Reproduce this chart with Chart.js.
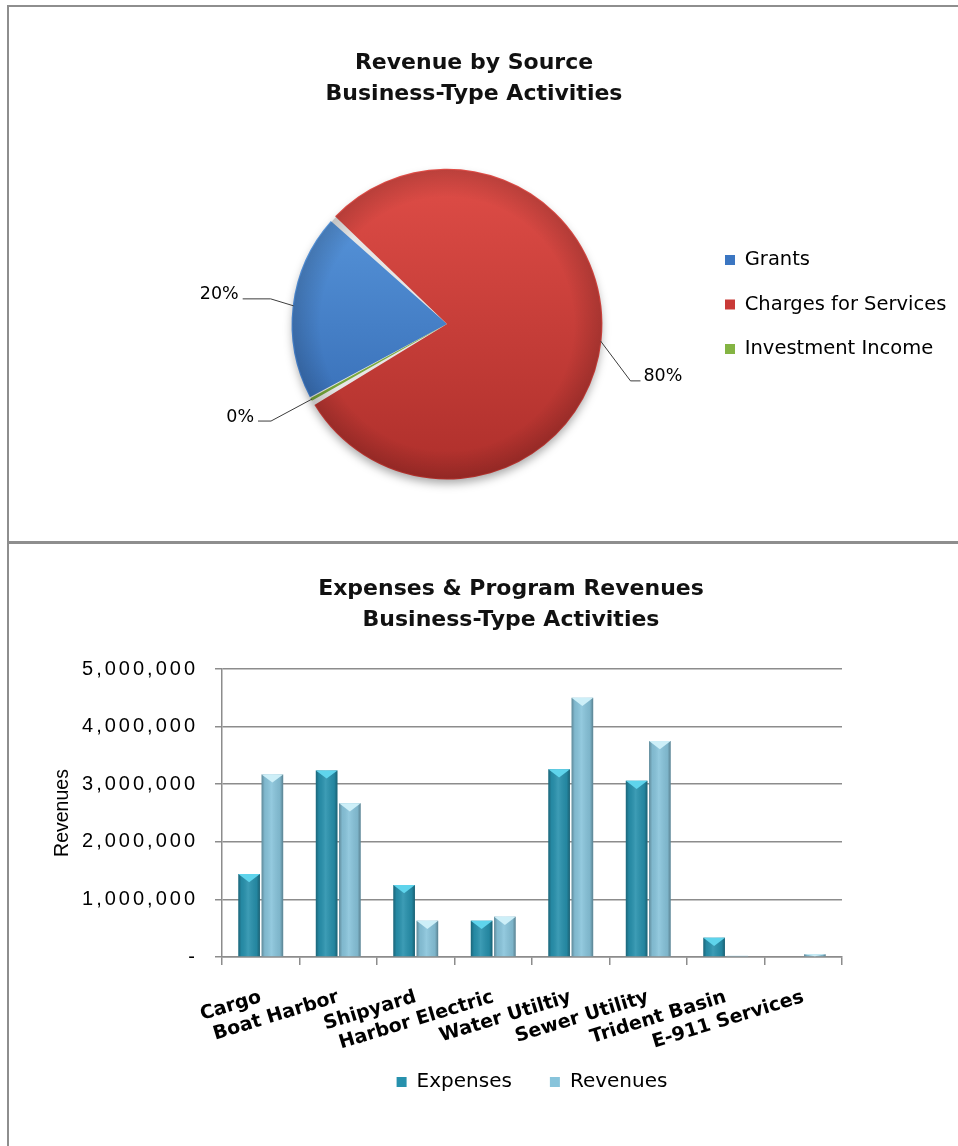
<!DOCTYPE html>
<html>
<head>
<meta charset="utf-8">
<title>Business-Type Activities</title>
<script src="https://cdn.jsdelivr.net/npm/chart.js@4.4.1/dist/chart.umd.min.js"></script>
<style>
  html, body { margin: 0; padding: 0; background: #fff; overflow: hidden; }
  body { width: 958px; height: 1146px; position: relative; }
  .frame { position: absolute; border: 0 solid #8e8e8e; }
  #frameTop { left: 7px; top: 5px; width: 1000px; height: 534px; border-width: 2px 0 3px 2px; }
  #frameBottom { left: 7px; top: 544px; width: 1000px; height: 700px; border-left-width: 2px; }
  canvas { position: absolute; }
  #pieChart { left: 0; top: 7px; }
  #barChart { left: 9px; top: 545px; }
</style>
</head>
<body>
<div class="frame" id="frameTop"></div>
<div class="frame" id="frameBottom"></div>
<canvas id="pieChart" width="958" height="534"></canvas>
<canvas id="barChart" width="1004" height="601"></canvas>
<script>
// revenue by source, percent of total
const sourceLabels = ['Grants', 'Charges for Services', 'Investment Income'];
const sourceShares = [19.6, 80.1, 0.3];

// expenses and program revenues per activity
const activities = ['Cargo', 'Boat Harbor', 'Shipyard', 'Harbor Electric', 'Water Utiltiy', 'Sewer Utility', 'Trident Basin', 'E-911 Services'];
const expenses = [1440000, 3240000, 1250000, 630000, 3260000, 3060000, 335000, 0];
const revenues = [3170000, 2670000, 630000, 700000, 4500000, 3750000, 20000, 47000];
const yTicks = [0, 1000000, 2000000, 3000000, 4000000, 5000000];

const sliceTop = ['#5c9be0', '#df4d47', '#93c552'];
const sliceBottom = ['#2f64ad', '#ae2f2b', '#6a982f'];
const sliceSolid = ['#3b76c2', '#c93a37', '#84b443'];

// elbow of each leader line, relative to the slice edge, and the flat run
const leaderBends = [
    { dx: -23, dy: -7, run: -28 },
    { dx: 30, dy: 40, run: 10 },
    { dx: -41, dy: 22, run: -13 }
];

const axisGray = '#8c8c8c';
const barColors = ['#2791ad', '#88c4db'];
const capColors = ['#5fd4ec', '#cdeff8'];

const pieLook = {
    id: 'pieLook',
    beforeDraw(chart) {
        // legend text runs past the narrow legend box, so draw it unclipped
        const legend = chart.legend;
        if (legend && !legend._unclipped) {
            legend.draw = function () {
                if (this.options.display) this._draw();
            };
            legend._unclipped = true;
        }
    },
    beforeDatasetsDraw(chart) {
        const arc = chart.getDatasetMeta(0).data[0];
        if (!arc) return;
        const p = arc.getProps(['x', 'y', 'outerRadius'], true);
        const ctx = chart.ctx;
        ctx.save();
        ctx.shadowColor = 'rgba(0,0,0,0.35)';
        ctx.shadowBlur = 10;
        ctx.shadowOffsetY = 5;
        ctx.beginPath();
        ctx.arc(p.x, p.y, p.outerRadius, 0, Math.PI * 2);
        ctx.fillStyle = '#e6e6e6';
        ctx.fill();
        ctx.restore();
    },
    afterDatasetsDraw(chart) {
        const ctx = chart.ctx;
        const meta = chart.getDatasetMeta(0);
        const total = sourceShares.reduce((a, b) => a + b, 0);

        // darker rim
        const c = meta.data[0].getProps(['x', 'y', 'outerRadius'], true);
        const rim = ctx.createRadialGradient(c.x, c.y, c.outerRadius * 0.82, c.x, c.y, c.outerRadius);
        rim.addColorStop(0, 'rgba(0,0,0,0)');
        rim.addColorStop(1, 'rgba(0,0,0,0.16)');
        ctx.save();
        ctx.beginPath();
        ctx.arc(c.x, c.y, c.outerRadius, 0, Math.PI * 2);
        ctx.fillStyle = rim;
        ctx.fill();
        ctx.restore();

        meta.data.forEach((arc, i) => {
            const p = arc.getProps(['x', 'y', 'startAngle', 'endAngle', 'outerRadius'], true);
            const mid = (p.startAngle + p.endAngle) / 2;
            const ex = p.x + Math.cos(mid) * p.outerRadius;
            const ey = p.y + Math.sin(mid) * p.outerRadius;
            const bend = leaderBends[i];
            const bx = ex + bend.dx;
            const by = ey + bend.dy;
            const tx = bx + bend.run;
            ctx.save();
            ctx.strokeStyle = '#3c3c3c';
            ctx.lineWidth = 1;
            ctx.beginPath();
            ctx.moveTo(ex, ey);
            ctx.lineTo(bx, by);
            ctx.lineTo(tx, by);
            ctx.stroke();
            ctx.fillStyle = '#000';
            ctx.font = '17.5px "DejaVu Sans"';
            ctx.textBaseline = 'middle';
            ctx.textAlign = bend.run < 0 ? 'right' : 'left';
            const pct = Math.round(sourceShares[i] / total * 100) + '%';
            ctx.fillText(pct, tx + (bend.run < 0 ? -4 : 3), by - 4);
            ctx.restore();
        });
    }
};

const pieChart = new Chart(document.getElementById('pieChart'), {
    type: 'pie',
    data: {
        labels: sourceLabels,
        datasets: [{
            data: sourceShares,
            backgroundColor: (c) => {
                const area = c.chart.chartArea;
                if (!area) return sliceSolid[c.dataIndex];
                const g = c.chart.ctx.createLinearGradient(0, area.top, 0, area.bottom);
                g.addColorStop(0, sliceTop[c.dataIndex]);
                g.addColorStop(1, sliceBottom[c.dataIndex]);
                return g;
            },
            borderWidth: 0,
            spacing: 2
        }]
    },
    options: {
        responsive: false,
        animation: false,
        rotation: 241.5,
        layout: { padding: { left: 194, right: 204, top: 0, bottom: 61.5 } },
        plugins: {
            tooltip: { enabled: false },
            title: {
                display: true,
                text: ['Revenue by Source', 'Business-Type Activities'],
                color: '#111',
                font: { family: 'DejaVu Sans', size: 22, weight: 'bold', lineHeight: 1.4 },
                padding: { top: 40.6, bottom: 59.5 }
            },
            legend: {
                position: 'right',
                maxWidth: 54,
                title: { display: true, text: ' ', font: { size: 10 }, padding: { top: 0, bottom: 110.5 } },
                labels: {
                    boxWidth: 10,
                    boxHeight: 10,
                    padding: 25,
                    color: '#000',
                    font: { family: 'DejaVu Sans', size: 19.5 },
                    generateLabels(chart) {
                        const items = Chart.overrides.doughnut.plugins.legend.labels.generateLabels(chart);
                        items.forEach((it, i) => {
                            it.fillStyle = sliceSolid[i];
                            it.strokeStyle = sliceSolid[i];
                            it.lineWidth = 0;
                        });
                        return items;
                    }
                }
            }
        }
    },
    plugins: [pieLook]
});

// y tick labels get wide letter spacing; x labels may hang below their box
const tickTweaks = {
    id: 'tickTweaks',
    beforeDraw(chart) {
        const y = chart.scales.y;
        if (y && !y._spaced) {
            const draw = y.drawLabels;
            y.drawLabels = function (area) {
                this.ctx.save();
                this.ctx.letterSpacing = '3px';
                draw.call(this, area);
                this.ctx.restore();
            };
            y._spaced = true;
        }
        const x = chart.scales.x;
        if (x) x._computeLabelArea = () => undefined;
    }
};

// bevelled columns with a pointed cap
const columnLook = {
    id: 'columnLook',
    afterDatasetsDraw(chart) {
        const ctx = chart.ctx;
        chart.data.datasets.forEach((ds, di) => {
            chart.getDatasetMeta(di).data.forEach((bar) => {
                const b = bar.getProps(['x', 'y', 'base', 'width'], true);
                const h = b.base - b.y;
                if (h < 0.5) return;
                const x0 = b.x - b.width / 2;
                const x1 = b.x + b.width / 2;
                const g = ctx.createLinearGradient(x0, 0, x1, 0);
                g.addColorStop(0, 'rgba(0,0,0,0.30)');
                g.addColorStop(0.15, 'rgba(0,0,0,0.06)');
                g.addColorStop(0.45, 'rgba(255,255,255,0.10)');
                g.addColorStop(0.85, 'rgba(0,0,0,0.08)');
                g.addColorStop(1, 'rgba(0,0,0,0.34)');
                ctx.save();
                ctx.fillStyle = g;
                ctx.fillRect(x0, b.y, b.width, h);
                const d = Math.min(b.width * 0.38, h);
                ctx.beginPath();
                ctx.moveTo(x0, b.y);
                ctx.lineTo(x1, b.y);
                ctx.lineTo(b.x, b.y + d);
                ctx.closePath();
                ctx.fillStyle = capColors[di];
                ctx.fill();
                ctx.restore();
            });
        });
    }
};

const barChart = new Chart(document.getElementById('barChart'), {
    type: 'bar',
    data: {
        labels: activities,
        datasets: [
            { label: 'Expenses', data: expenses, backgroundColor: barColors[0], borderWidth: 0,
              categoryPercentage: 0.6, barPercentage: 0.93 },
            { label: 'Revenues', data: revenues, backgroundColor: barColors[1], borderWidth: 0,
              categoryPercentage: 0.6, barPercentage: 0.93 }
        ]
    },
    options: {
        responsive: false,
        animation: false,
        layout: { padding: { left: 0, right: 0, top: 0, bottom: 44 } },
        scales: {
            x: {
                grid: { display: true, drawOnChartArea: false, drawTicks: true, tickLength: 8, color: axisGray, lineWidth: 1.5 },
                border: { display: true, color: axisGray, width: 1.5 },
                ticks: {
                    autoSkip: false,
                    minRotation: 17,
                    maxRotation: 17,
                    padding: 21,
                    color: '#000',
                    font: { family: 'DejaVu Sans', size: 19, weight: 'bold' }
                },
                afterFit(s) { s.height = 77; }
            },
            y: {
                min: yTicks[0],
                max: yTicks[yTicks.length - 1],
                afterBuildTicks(s) { s.ticks = yTicks.map(v => ({ value: v })); },
                ticks: {
                    padding: 17,
                    color: '#000',
                    font: { family: 'Liberation Sans', size: 20 },
                    callback: (v) => v === 0 ? '-' : v.toLocaleString('en-US')
                },
                grid: { color: axisGray, lineWidth: 1.5, tickLength: 7 },
                border: { color: axisGray, width: 1.5 },
                title: {
                    display: true,
                    text: 'Revenues',
                    color: '#000',
                    font: { family: 'Liberation Sans', size: 19.5 },
                    padding: { top: 42, bottom: 0 }
                },
                afterFit(s) { s.width = 213; }
            },
            y2: {
                position: 'right',
                grid: { display: false },
                border: { display: false },
                ticks: { display: false },
                afterFit(s) { s.width = 171; }
            }
        },
        plugins: {
            tooltip: { enabled: false },
            title: {
                display: true,
                text: ['Expenses & Program Revenues', 'Business-Type Activities'],
                color: '#111',
                font: { family: 'DejaVu Sans', size: 22, weight: 'bold', lineHeight: 1.4 },
                padding: { top: 28.6, bottom: 33.8 }
            },
            legend: {
                position: 'bottom',
                fullSize: false,
                labels: {
                    boxWidth: 10,
                    boxHeight: 10,
                    padding: 38,
                    color: '#000',
                    font: { family: 'DejaVu Sans', size: 20 }
                }
            }
        }
    },
    plugins: [tickTweaks, columnLook]
});
</script>
</body>
</html>
